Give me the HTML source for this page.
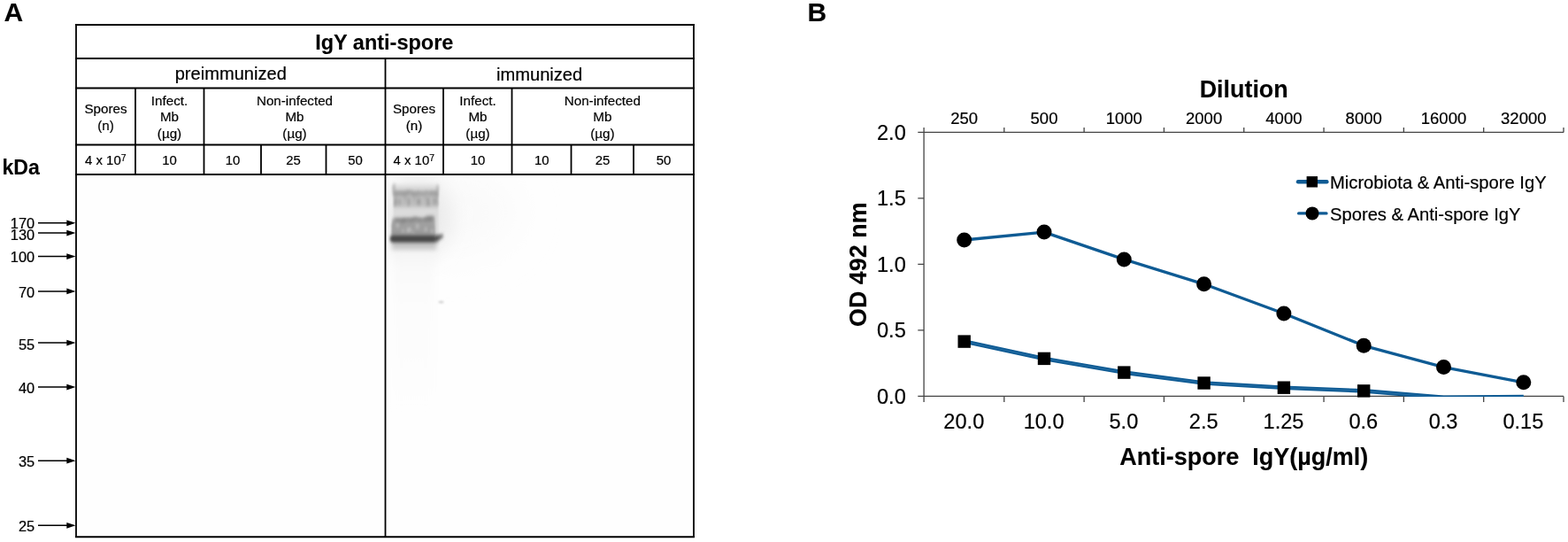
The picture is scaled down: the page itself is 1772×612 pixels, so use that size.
<!DOCTYPE html>
<html lang="en">
<head>
<meta charset="utf-8">
<title>IgY anti-spore figure</title>
<style>
html,body{margin:0;padding:0;background:#fff;}
body{width:1772px;height:612px;overflow:hidden;}
svg{display:block;}
text{font-family:"Liberation Sans", Arial, Helvetica, sans-serif;fill:#000;stroke:#000;stroke-width:0.2px;stroke-linejoin:round;}
.b{font-weight:bold;stroke-width:0.1px;}
.m{text-anchor:middle;}
.e{text-anchor:end;}
</style>
</head>
<body>
<svg width="1772" height="612" viewBox="0 0 1772 612">
<defs>
<linearGradient id="lane" x1="0" y1="0" x2="0" y2="1"><stop offset="0" stop-color="#f2f2f2"/><stop offset="0.12" stop-color="#f9f9f9"/><stop offset="0.35" stop-color="#fcfcfc"/><stop offset="0.8" stop-color="#fdfdfd"/><stop offset="1" stop-color="#fefefe"/></linearGradient>
<clipPath id="gelR"><rect x="437.8" y="199.3" width="344.9" height="405.4"/></clipPath>
<filter id="g12" filterUnits="userSpaceOnUse" x="420" y="190" width="380" height="420"><feGaussianBlur stdDeviation="1.2"/></filter>
<filter id="g15" filterUnits="userSpaceOnUse" x="420" y="190" width="380" height="420"><feGaussianBlur stdDeviation="1.6 2.1"/></filter>
<filter id="a13" filterUnits="userSpaceOnUse" x="420" y="190" width="380" height="420"><feGaussianBlur stdDeviation="1.1 2.2"/></filter>
<filter id="g25" filterUnits="userSpaceOnUse" x="420" y="190" width="380" height="420"><feGaussianBlur stdDeviation="2.5"/></filter>
<filter id="g5" filterUnits="userSpaceOnUse" x="420" y="190" width="380" height="420"><feGaussianBlur stdDeviation="5"/></filter>
<filter id="g12b" filterUnits="userSpaceOnUse" x="380" y="150" width="250" height="250"><feGaussianBlur stdDeviation="10"/></filter>
<filter id="g20" filterUnits="userSpaceOnUse" x="300" y="100" width="500" height="400"><feGaussianBlur stdDeviation="22"/></filter>
<filter id="wob" filterUnits="userSpaceOnUse" x="430" y="195" width="90" height="95"><feTurbulence type="fractalNoise" baseFrequency="0.15" numOctaves="2" seed="7" result="n"/><feDisplacementMap in="SourceGraphic" in2="n" scale="4" xChannelSelector="R" yChannelSelector="G"/><feGaussianBlur stdDeviation="1.5 1.9"/></filter>
</defs>
<rect x="0" y="0" width="1772" height="612" fill="#ffffff"/>

<text x="4.6" y="23.9" class="b" font-size="30">A</text>
<text x="2.4" y="197.3" class="b" font-size="23.1">kDa</text>
<rect x="88.3" y="199.3" width="345.4" height="405.4" fill="#fefefe"/>
<rect x="437.8" y="199.3" width="344.9" height="405.4" fill="#fefefe"/>
<g id="bands" clip-path="url(#gelR)">
<ellipse cx="495" cy="240" rx="90" ry="50" fill="#fafafa" filter="url(#g20)"/>
<ellipse cx="472" cy="245" rx="40" ry="46" fill="#ececec" filter="url(#g12b)"/>
<rect x="443" y="278" width="48" height="190" fill="url(#lane)" filter="url(#g5)"/>
<rect x="444.5" y="209" width="51" height="66" fill="#dcdcdc" filter="url(#a13)"/>
<rect x="443" y="270" width="50" height="12" fill="#c8c8c8" filter="url(#g25)"/>
<rect x="445" y="215" width="50" height="19" fill="#bdbdbd" filter="url(#a13)"/>
<rect x="443" y="247" width="48.5" height="20" fill="#a9a9a9" filter="url(#a13)"/>
<g filter="url(#wob)">
<rect x="444.4" y="207" width="2.2" height="14" fill="#b4b4b4"/>
<rect x="493.4" y="209" width="2.2" height="12" fill="#acacac"/>
<rect x="445" y="216.2" width="50" height="4.2" fill="#999999"/>
<g stroke="#9c9c9c" stroke-width="2.4" fill="none"><path d="M447.5 223l-0.5 9M452 225l-1 7M457 226l2 -3M462.5 224l-1 8M468 226l2 -2M473.5 224l-1 7M479 225l2 -2M484.5 224l-1 8M489.5 223l0.5 8M493.8 221v10"/></g>
<path d="M446 248.8C460 247.6 478 250 491 245.8" stroke="#7e7e7e" stroke-width="4" fill="none"/>
<rect x="442.5" y="252" width="48" height="13" fill="#9e9e9e"/>
<g fill="#c4c4c4"><circle cx="449" cy="255" r="2"/><circle cx="462" cy="260" r="2.4"/><circle cx="472" cy="255.5" r="2"/><circle cx="481" cy="259" r="2"/><circle cx="488" cy="262" r="1.8"/><circle cx="455" cy="262" r="1.6"/><circle cx="467" cy="263" r="1.4"/></g>
</g>
<path d="M444 265.8H489C493 265.8 497 265.6 500.6 264.8L501.2 267C498 269.5 494.5 273.4 490 273.4H444C439.5 273.4 439.5 265.8 444 265.8Z" fill="#505050" filter="url(#g15)"/>
<path d="M443.5 269.5H490" stroke="#3e3e3e" stroke-width="3.6" stroke-linecap="round" fill="none" filter="url(#g15)"/>
<ellipse cx="498.5" cy="341" rx="3" ry="1.5" fill="#d6d6d6" filter="url(#g12)"/>
</g>
<path d="M85 28H785M85 66H785M85 99.5H785M85 163.5H785M85 197H785M85 606.2H785" stroke="#000" stroke-width="1.9" fill="none"/>
<path d="M86 27V607M784 27V607M435.5 66V607M153 99.5V197M230.5 99.5V197M501 99.5V197M578.5 99.5V197M295 163.5V197M368.5 163.5V197M645.5 163.5V197M716 163.5V197" stroke="#000" stroke-width="1.8" fill="none"/>
<text x="434.3" y="55.5" class="b m" font-size="23.5">IgY anti-spore</text>
<text x="260.8" y="90.4" class="m" font-size="20.1">preimmunized</text>
<text x="609.6" y="90.5" class="m" font-size="20.1">immunized</text>
<text x="119.5" y="127.7" class="m" font-size="15.2">Spores</text>
<text x="119.5" y="147.2" class="m" font-size="15.2">(n)</text>
<text x="191.5" y="118.8" class="m" font-size="15.2">Infect.</text>
<text x="191.5" y="137.3" class="m" font-size="15.2">Mb</text>
<text x="191.5" y="155.8" class="m" font-size="15.2">(µg)</text>
<text x="333" y="118.8" class="m" font-size="15.2">Non-infected</text>
<text x="333" y="137.3" class="m" font-size="15.2">Mb</text>
<text x="333" y="155.8" class="m" font-size="15.2">(µg)</text>
<text x="119.3" y="186" class="m" font-size="14.9">4 x 10<tspan font-size="10.4" dy="-4">7</tspan></text>
<text x="191.5" y="186" class="m" font-size="14.9">10</text>
<text x="263" y="186" class="m" font-size="14.9">10</text>
<text x="331.5" y="186" class="m" font-size="14.9">25</text>
<text x="401.5" y="186" class="m" font-size="14.9">50</text>
<text x="468.0" y="127.7" class="m" font-size="15.2">Spores</text>
<text x="468.0" y="147.2" class="m" font-size="15.2">(n)</text>
<text x="540.0" y="118.8" class="m" font-size="15.2">Infect.</text>
<text x="540.0" y="137.3" class="m" font-size="15.2">Mb</text>
<text x="540.0" y="155.8" class="m" font-size="15.2">(µg)</text>
<text x="680.8" y="118.8" class="m" font-size="15.2">Non-infected</text>
<text x="680.8" y="137.3" class="m" font-size="15.2">Mb</text>
<text x="680.8" y="155.8" class="m" font-size="15.2">(µg)</text>
<text x="467.8" y="186" class="m" font-size="14.9">4 x 10<tspan font-size="10.4" dy="-4">7</tspan></text>
<text x="540.0" y="186" class="m" font-size="14.9">10</text>
<text x="612.3" y="186" class="m" font-size="14.9">10</text>
<text x="681.1" y="186" class="m" font-size="14.9">25</text>
<text x="750.0" y="186" class="m" font-size="14.9">50</text>
<text x="39.2" y="258.4" class="e" font-size="16.4">170</text>
<path d="M43 251.8H77" stroke="#000" stroke-width="1.5" fill="none"/>
<path d="M75.3 248.4L85.5 251.8L75.3 255.20000000000002Z" fill="#000"/>
<text x="39.2" y="270.8" class="e" font-size="16.4">130</text>
<path d="M43 263.1H77" stroke="#000" stroke-width="1.5" fill="none"/>
<path d="M75.3 259.70000000000005L85.5 263.1L75.3 266.5Z" fill="#000"/>
<text x="39.2" y="296.4" class="e" font-size="16.4">100</text>
<path d="M43 289.6H77" stroke="#000" stroke-width="1.5" fill="none"/>
<path d="M75.3 286.20000000000005L85.5 289.6L75.3 293.0Z" fill="#000"/>
<text x="39.2" y="336.1" class="e" font-size="16.4">70</text>
<path d="M43 328.9H77" stroke="#000" stroke-width="1.5" fill="none"/>
<path d="M75.3 325.5L85.5 328.9L75.3 332.29999999999995Z" fill="#000"/>
<text x="39.2" y="394.6" class="e" font-size="16.4">55</text>
<path d="M43 387.1H77" stroke="#000" stroke-width="1.5" fill="none"/>
<path d="M75.3 383.70000000000005L85.5 387.1L75.3 390.5Z" fill="#000"/>
<text x="39.2" y="444.2" class="e" font-size="16.4">40</text>
<path d="M43 437.1H77" stroke="#000" stroke-width="1.5" fill="none"/>
<path d="M75.3 433.70000000000005L85.5 437.1L75.3 440.5Z" fill="#000"/>
<text x="39.2" y="527.2" class="e" font-size="16.4">35</text>
<path d="M43 520.2H77" stroke="#000" stroke-width="1.5" fill="none"/>
<path d="M75.3 516.8000000000001L85.5 520.2L75.3 523.6Z" fill="#000"/>
<text x="39.2" y="600.4" class="e" font-size="16.4">25</text>
<path d="M43 593.3H77" stroke="#000" stroke-width="1.5" fill="none"/>
<path d="M75.3 589.9L85.5 593.3L75.3 596.6999999999999Z" fill="#000"/>
<text x="912.4" y="23.9" class="b" font-size="30">B</text>
<path d="M1044.1 144.1V454.09999999999997M1037.3 447.4H1767.0M1037.3 149.4H1767.0M1134.81 447.4V454.09999999999997M1134.81 149.4V144.1M1225.12 447.4V454.09999999999997M1225.12 149.4V144.1M1315.44 447.4V454.09999999999997M1315.44 149.4V144.1M1405.75 447.4V454.09999999999997M1405.75 149.4V144.1M1496.06 447.4V454.09999999999997M1496.06 149.4V144.1M1586.38 447.4V454.09999999999997M1586.38 149.4V144.1M1676.69 447.4V454.09999999999997M1676.69 149.4V144.1M1767.00 447.4V454.09999999999997M1767.00 149.4V144.1M1037.3 372.90H1044.5M1037.3 298.40H1044.5M1037.3 223.90H1044.5" stroke="#444444" stroke-width="1.3" fill="none"/>
<text x="1023.8" y="455.8" class="e" font-size="23.6">0.0</text>
<text x="1023.8" y="381.3" class="e" font-size="23.6">0.5</text>
<text x="1023.8" y="306.8" class="e" font-size="23.6">1.0</text>
<text x="1023.8" y="232.3" class="e" font-size="23.6">1.5</text>
<text x="1023.8" y="157.8" class="e" font-size="23.6">2.0</text>
<text x="1089.7" y="139.9" class="m" font-size="18.5">250</text>
<text x="1089.3" y="483.7" class="m" font-size="23.6">20.0</text>
<text x="1180.0" y="139.9" class="m" font-size="18.5">500</text>
<text x="1179.6" y="483.7" class="m" font-size="23.6">10.0</text>
<text x="1270.3" y="139.9" class="m" font-size="18.5">1000</text>
<text x="1269.9" y="483.7" class="m" font-size="23.6">5.0</text>
<text x="1360.6" y="139.9" class="m" font-size="18.5">2000</text>
<text x="1360.2" y="483.7" class="m" font-size="23.6">2.5</text>
<text x="1450.9" y="139.9" class="m" font-size="18.5">4000</text>
<text x="1450.5" y="483.7" class="m" font-size="23.6">1.25</text>
<text x="1541.2" y="139.9" class="m" font-size="18.5">8000</text>
<text x="1540.8" y="483.7" class="m" font-size="23.6">0.6</text>
<text x="1631.5" y="139.9" class="m" font-size="18.5">16000</text>
<text x="1631.1" y="483.7" class="m" font-size="23.6">0.3</text>
<text x="1721.8" y="139.9" class="m" font-size="18.5">32000</text>
<text x="1721.4" y="483.7" class="m" font-size="23.6">0.15</text>
<text x="1405.7" y="110" class="b m" font-size="26.9">Dilution</text>
<text x="1405.7" y="524.7" class="b m" font-size="27" style="white-space:pre">Anti-spore  IgY(µg/ml)</text>
<text transform="translate(979.4 298.7) rotate(-90)" class="b m" font-size="26.9">OD 492 nm</text>
<clipPath id="pc"><rect x="1044.5" y="149.4" width="722.5" height="298.5"/></clipPath>
<g clip-path="url(#pc)"><path d="M1089.7 385.6L1180.0 404.9L1270.3 420.6L1360.6 432.5L1450.9 437.7L1541.2 441.4L1631.5 448.9L1721.8 448.1" stroke="#0f5b94" stroke-width="4.6" fill="none" stroke-linejoin="round"/><path d="M1089.7 385.6L1180.0 404.9L1270.3 420.6L1360.6 432.5L1450.9 437.7L1541.2 441.4L1631.5 448.9L1721.8 448.1" stroke="#2a72a8" stroke-width="0.8" fill="none" stroke-linejoin="round"/></g>
<path d="M1089.7 271.0L1180.0 262.1L1270.3 292.9L1360.6 320.8L1450.9 354.0L1541.2 390.3L1631.5 414.6L1721.8 431.8" stroke="#0f5b94" stroke-width="3.3" fill="none" stroke-linejoin="round"/>
<rect x="1082.5" y="378.4" width="14.4" height="14.4" fill="#000"/>
<rect x="1172.8" y="397.7" width="14.4" height="14.4" fill="#000"/>
<rect x="1263.1" y="413.4" width="14.4" height="14.4" fill="#000"/>
<rect x="1353.4" y="425.3" width="14.4" height="14.4" fill="#000"/>
<rect x="1443.7" y="430.5" width="14.4" height="14.4" fill="#000"/>
<rect x="1534.0" y="434.2" width="14.4" height="14.4" fill="#000"/>
<circle cx="1089.7" cy="271.0" r="8.5" fill="#000"/>
<circle cx="1180.0" cy="262.1" r="8.5" fill="#000"/>
<circle cx="1270.3" cy="292.9" r="8.5" fill="#000"/>
<circle cx="1360.6" cy="320.8" r="8.5" fill="#000"/>
<circle cx="1450.9" cy="354.0" r="8.5" fill="#000"/>
<circle cx="1541.2" cy="390.3" r="8.5" fill="#000"/>
<circle cx="1631.5" cy="414.6" r="8.5" fill="#000"/>
<circle cx="1721.8" cy="431.8" r="8.5" fill="#000"/>
<path d="M1467 205.3H1499.4" stroke="#0f5b94" stroke-width="4.4" stroke-linecap="round"/>
<rect x="1476.6" y="199.1" width="12.4" height="12.4" fill="#000"/>
<text x="1503" y="212.5" font-size="20.2">Microbiota &amp; Anti-spore IgY</text>
<path d="M1467.6 240.9H1499" stroke="#0f5b94" stroke-width="3.3" stroke-linecap="round"/>
<circle cx="1483" cy="240.9" r="7.5" fill="#000"/>
<text x="1503" y="248.7" font-size="20.2">Spores &amp; Anti-spore IgY</text>
</svg>
</body>
</html>
